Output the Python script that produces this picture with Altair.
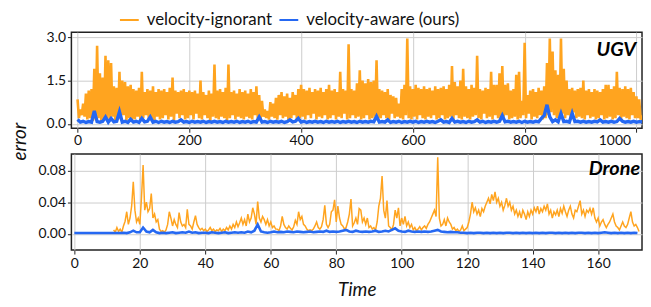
import altair as alt
import numpy as np
import pandas as pd

SERIES = ["velocity-ignorant", "velocity-aware (ours)"]
COLORS = ["#FFA41F", "#2568F2"]

# ---------------- UGV panel ----------------
UGV_IGN_T0, UGV_IGN_STEP = 0.0, 2.5
ugv_ignorant = [
    0.85,0.2, 0.5,0.3, 0.7,0.25, 1.05,0.15, 1.15,0.2, 1.2,0.1, 1.9,0.15, 2.7,0.2, 1.75,0.1, 1.6,0.15,
    2.35,0.2, 2.2,0.15, 2.1,0.25, 1.3,0.1, 1.25,0.2, 1.8,0.15, 1.5,0.3, 1.45,0.1, 1.3,0.2, 1.35,0.15,
    1.2,0.15, 1.15,0.25, 1.25,0.1, 1.8,0.2, 1.1,0.3, 1.2,0.15, 1.15,0.2, 1.3,0.1, 1.1,0.25, 1.2,0.15,
    1.15,0.2, 1.2,0.3, 1.1,0.15, 1.25,0.25, 1.6,0.1, 1.15,0.35, 1.1,0.2, 1.15,0.3, 1.2,0.15, 1.1,0.2,
    1.15,0.3, 1.1,0.15, 1.15,0.35, 1.05,0.2, 1.5,0.15, 1.1,0.3, 1.0,0.2, 1.15,0.1, 1.05,0.25, 2.05,0.2,
    1.15,0.15, 1.2,0.25, 1.1,0.2, 1.25,0.1, 2.05,0.2, 1.1,0.3, 1.15,0.15, 1.05,0.25, 1.2,0.2, 1.1,0.15,
    1.15,0.25, 1.05,0.2, 1.2,0.15, 1.1,0.3, 1.3,0.2, 1.0,0.15, 0.8,0.25, 0.5,0.2, 0.45,0.15, 0.75,0.25,
    0.7,0.2, 0.9,0.15, 1.0,0.3, 1.1,0.2, 0.95,0.25, 1.05,0.1, 0.9,0.2, 1.1,0.3, 1.0,0.15, 1.2,0.2,
    1.35,0.25, 1.2,0.15, 1.15,0.3, 1.25,0.2, 1.1,0.35, 1.2,0.15, 1.15,0.25, 1.25,0.2, 1.1,0.3, 1.2,0.15,
    1.35,0.2, 1.15,0.3, 1.2,0.15, 1.1,0.25, 1.8,0.2, 1.2,0.35, 1.15,0.15, 2.75,0.2, 1.2,0.3, 1.15,0.2,
    1.4,0.25, 1.85,0.15, 1.5,0.2, 1.4,0.3, 1.55,0.15, 1.45,0.2, 1.5,0.25, 2.2,0.15, 1.2,0.2, 1.15,0.3,
    1.1,0.2, 1.2,0.15, 1.0,0.35, 0.95,0.2, 0.9,0.25, 0.7,0.2, 1.2,0.15, 1.35,0.3, 2.95,0.2, 1.3,0.15,
    1.2,0.25, 1.35,0.15, 1.25,0.3, 1.2,0.2, 1.3,0.15, 1.2,0.25, 1.25,0.2, 1.15,0.3, 1.3,0.15, 1.2,0.2,
    1.25,0.3, 1.3,0.15, 1.2,0.2, 1.35,0.25, 2.0,0.15, 1.45,0.3, 1.3,0.2, 1.5,0.15, 1.9,0.25, 1.3,0.2,
    1.2,0.15, 1.35,0.25, 1.25,0.3, 2.35,0.2, 1.2,0.15, 1.15,0.35, 1.25,0.2, 1.2,0.25, 1.8,0.15, 1.35,0.3,
    1.35,0.2, 1.75,0.15, 2.0,0.25, 1.35,0.3, 1.4,0.15, 1.15,0.2, 1.2,0.25, 1.7,0.15, 1.8,0.2, 0.8,0.3,
    2.8,0.2, 1.0,0.35, 1.15,0.15, 1.2,0.25, 1.1,0.2, 1.25,0.3, 1.15,0.15, 1.3,0.2, 2.1,0.3, 2.95,0.4,
    2.5,0.3, 1.85,0.2, 1.7,0.25, 2.95,0.35, 1.9,0.2, 1.5,0.3, 1.2,0.15, 1.25,0.4, 1.15,0.2, 1.2,0.25,
    1.25,0.2, 1.5,0.15, 1.15,0.3, 1.2,0.2, 1.1,0.25, 1.2,0.15, 1.15,0.2, 1.1,0.3, 1.2,0.15, 1.35,0.2,
    1.35,0.25, 1.2,0.15, 1.3,0.2, 1.8,0.3, 1.25,0.15, 1.2,0.25, 1.3,0.2, 1.2,0.15, 1.25,0.3, 1.1,0.2,
    0.95,0.2, 0.85,0.15, 0.3,
]

UGV_AW_T0, UGV_AW_STEP = 0.0, 5.0
ugv_aware = [
    0.15,0.06,0.09,0.05,0.08,0.06,0.45,0.08,0.06,0.09,
    0.24,0.06,0.19,0.07,0.09,0.42,0.06,0.09,0.05,0.16,
    0.06,0.09,0.05,0.19,0.07,0.09,0.24,0.06,0.09,0.05,
    0.09,0.06,0.08,0.05,0.09,0.06,0.08,0.14,0.06,0.08,
    0.05,0.09,0.06,0.08,0.06,0.09,0.05,0.08,0.06,0.09,
    0.06,0.08,0.05,0.09,0.06,0.08,0.06,0.09,0.05,0.08,
    0.06,0.09,0.05,0.08,0.06,0.24,0.06,0.08,0.05,0.09,
    0.06,0.08,0.06,0.09,0.05,0.08,0.14,0.07,0.09,0.19,
    0.06,0.09,0.05,0.08,0.06,0.09,0.06,0.08,0.05,0.09,
    0.06,0.08,0.06,0.09,0.05,0.08,0.06,0.09,0.06,0.08,
    0.05,0.09,0.06,0.08,0.06,0.09,0.07,0.26,0.06,0.08,
    0.06,0.14,0.05,0.08,0.06,0.09,0.05,0.08,0.06,0.09,
    0.06,0.09,0.05,0.08,0.06,0.09,0.06,0.08,0.05,0.09,
    0.14,0.06,0.08,0.05,0.19,0.06,0.09,0.06,0.08,0.05,
    0.09,0.06,0.08,0.14,0.06,0.09,0.05,0.08,0.06,0.09,
    0.06,0.09,0.29,0.07,0.09,0.06,0.08,0.06,0.09,0.05,
    0.09,0.06,0.08,0.06,0.09,0.07,0.19,0.29,0.66,0.24,
    0.08,0.14,0.07,0.36,0.08,0.09,0.06,0.37,0.08,0.09,
    0.06,0.09,0.06,0.08,0.06,0.09,0.07,0.14,0.06,0.08,
    0.06,0.09,0.06,0.08,0.19,0.09,0.06,0.08,0.06,0.09,
    0.06,0.08,0.07,
]

UGV_X_DOMAIN = [-11, 1010]
UGV_X_TICKS = [0, 200, 400, 600, 800, 1000]
UGV_Y_DOMAIN = [-0.15, 3.17]
UGV_Y_TICKS = [0.0, 1.5, 3.0]

# ---------------- Drone panel ----------------
DRONE_IGN_T0, DRONE_IGN_STEP = 12.0, 0.5
drone_ignorant = [
    0.005,0.002,0.008,0.003,0.006,0.002,0.01,0.016,0.028,0.012,0.02,0.035,0.066,0.03,0.015,0.02,0.012,0.045,0.087,0.03,
    0.04,0.028,0.032,0.051,0.02,0.025,0.015,0.018,0.006,0.003,0.004,0.002,0.005,0.012,0.028,0.02,0.01,0.018,0.012,0.008,
    0.027,0.015,0.01,0.012,0.008,0.031,0.012,0.01,0.006,0.015,0.023,0.012,0.008,0.005,0.007,0.004,0.006,0.003,0.005,0.008,
    0.004,0.006,0.003,0.005,0.004,0.007,0.003,0.006,0.004,0.008,0.005,0.01,0.006,0.012,0.008,0.015,0.009,0.014,0.02,0.012,
    0.018,0.01,0.025,0.015,0.02,0.033,0.025,0.012,0.041,0.02,0.015,0.022,0.018,0.012,0.018,0.01,0.015,0.008,0.01,0.006,
    0.006,0.004,0.01,0.022,0.012,0.008,0.006,0.01,0.007,0.005,0.009,0.017,0.012,0.028,0.018,0.022,0.012,0.01,0.006,0.004,
    0.005,0.004,0.006,0.01,0.015,0.008,0.006,0.009,0.018,0.036,0.012,0.008,0.012,0.028,0.03,0.043,0.015,0.035,0.02,0.012,
    0.01,0.006,0.008,0.015,0.025,0.044,0.01,0.014,0.02,0.012,0.032,0.03,0.015,0.02,0.012,0.02,0.008,0.01,0.006,0.008,
    0.005,0.015,0.035,0.045,0.073,0.03,0.02,0.042,0.01,0.008,0.005,0.012,0.03,0.02,0.033,0.01,0.02,0.012,0.022,0.01,
    0.015,0.008,0.012,0.005,0.008,0.004,0.006,0.009,0.005,0.008,0.01,0.007,0.012,0.015,0.02,0.025,0.03,0.022,0.097,0.02,
    0.01,0.012,0.018,0.01,0.02,0.015,0.012,0.006,0.008,0.004,0.006,0.003,0.005,0.01,0.004,0.006,0.008,0.015,0.025,0.04,
    0.028,0.033,0.025,0.03,0.022,0.032,0.028,0.035,0.04,0.045,0.038,0.05,0.042,0.053,0.04,0.045,0.035,0.04,0.03,0.036,
    0.045,0.035,0.04,0.03,0.035,0.025,0.03,0.022,0.028,0.02,0.03,0.025,0.018,0.028,0.022,0.03,0.025,0.033,0.028,0.035,
    0.025,0.032,0.028,0.035,0.03,0.038,0.025,0.03,0.02,0.028,0.024,0.03,0.022,0.032,0.026,0.035,0.028,0.022,0.03,0.035,
    0.025,0.02,0.03,0.028,0.035,0.042,0.025,0.03,0.022,0.03,0.027,0.032,0.025,0.033,0.02,0.015,0.02,0.01,0.015,0.018,
    0.012,0.008,0.012,0.015,0.02,0.025,0.015,0.01,0.008,0.005,0.01,0.015,0.01,0.008,0.012,0.02,0.028,0.015,0.01,0.012,
    0.008,0.003,
]

DRONE_AW_T0, DRONE_AW_STEP = 0.0, 1.0
drone_aware = [
    0.001,0.001,0.001,0.001,0.001,0.001,0.001,0.001,0.001,0.001,0.001,0.001,0.001,0.001,0.001,0.0015,0.001,0.002,0.004,0.002,
    0.002,0.008,0.003,0.002,0.005,0.002,0.001,0.0015,0.001,0.0015,0.002,0.001,0.0015,0.002,0.0015,0.003,0.0015,0.002,0.001,0.0015,
    0.0015,0.001,0.002,0.0015,0.001,0.0015,0.002,0.001,0.0015,0.002,0.0015,0.002,0.0015,0.003,0.002,0.004,0.012,0.003,0.002,0.0015,
    0.002,0.003,0.002,0.0025,0.002,0.003,0.0025,0.002,0.003,0.0025,0.002,0.0025,0.003,0.002,0.0025,0.003,0.0025,0.004,0.0025,0.003,
    0.0025,0.003,0.004,0.005,0.003,0.0025,0.004,0.003,0.0025,0.003,0.0025,0.003,0.004,0.0025,0.003,0.004,0.003,0.005,0.007,0.004,
    0.003,0.0025,0.004,0.003,0.0025,0.003,0.0025,0.003,0.0025,0.003,0.004,0.005,0.003,0.0025,0.002,0.0025,0.002,0.002,0.0015,0.0015,
    0.001,0.0015,0.001,0.0015,0.0015,0.001,0.0015,0.001,0.0015,0.001,0.0015,0.001,0.0015,0.0015,0.001,0.0015,0.001,0.0015,0.001,0.0015,
    0.001,0.0015,0.001,0.0015,0.001,0.0015,0.0015,0.001,0.0015,0.001,0.0015,0.001,0.0015,0.001,0.0015,0.0015,0.001,0.0015,0.001,0.0015,
    0.001,0.0015,0.002,0.0015,0.001,0.0015,0.001,0.0015,0.001,0.0015,0.001,0.0015,0.001,
]

DRONE_X_DOMAIN = [-0.9, 173.4]
DRONE_X_TICKS = [0, 20, 40, 60, 80, 100, 120, 140, 160]
DRONE_Y_DOMAIN = [-0.0205, 0.101]
DRONE_Y_TICKS = [0.0, 0.04, 0.08]

PANEL_LABELS = ["UGV", "Drone"]
FONT = "Lato"


def series_frame(values, t0, step, name):
    return pd.DataFrame({
        "t": t0 + step * np.arange(len(values)),
        "error": values,
        "method": name,
    })


color_enc = alt.Color(
    "method:N",
    scale=alt.Scale(domain=SERIES, range=COLORS),
    legend=alt.Legend(
        title=None, orient="none", direction="horizontal",
        legendX=48, legendY=-23,
        symbolType="stroke", symbolSize=361, symbolStrokeWidth=2,
        labelFontSize=17, labelFont=FONT, labelColor="#111",
        labelOffset=7, columnPadding=3, padding=0,
    ),
)


def panel(ign, aw, xdom, xticks, ydom, yticks, yfmt, label, label_x, label_y,
          xtitle, ytitle, label_pad, ign_w, aw_w, flush):
    xaxis = dict(values=xticks, format="d", title=xtitle,
                 labelPadding=label_pad, titlePadding=10)
    if flush:
        xaxis.update(labelFlush=5.9, labelFlushOffset=-6)
    x = alt.X("t:Q", scale=alt.Scale(domain=xdom, nice=False, zero=False),
              axis=alt.Axis(**xaxis))
    yaxis = dict(values=yticks, format=yfmt, title=ytitle)
    if ytitle:
        yaxis.update(titleX=-52, titleY=110, titleAngle=-90,
                     titleAlign="center", titleBaseline="middle")
    y = alt.Y("error:Q", scale=alt.Scale(domain=ydom, nice=False, zero=False),
              axis=alt.Axis(**yaxis))
    l1 = alt.Chart(ign).mark_line(strokeWidth=ign_w, clip=True).encode(
        x=x, y=y, color=color_enc)
    l2 = alt.Chart(aw).mark_line(strokeWidth=aw_w, clip=True).encode(
        x=x, y=y, color=color_enc)
    txt = alt.Chart(pd.DataFrame({"label": [label]})).mark_text(
        font=FONT, fontSize=20, fontWeight="bold", fontStyle="italic",
        align="right", baseline="alphabetic", color="#000",
    ).encode(text="label:N", x=alt.value(label_x), y=alt.value(label_y))
    return alt.layer(l1, l2, txt).properties(width=576, height=97)


top = panel(
    series_frame(ugv_ignorant, UGV_IGN_T0, UGV_IGN_STEP, SERIES[0]),
    series_frame(ugv_aware, UGV_AW_T0, UGV_AW_STEP, SERIES[1]),
    UGV_X_DOMAIN, UGV_X_TICKS, UGV_Y_DOMAIN, UGV_Y_TICKS, ".1f",
    PANEL_LABELS[0], 570, 24, None, "error", 1, 2.6, 3.4, True,
)
bottom = panel(
    series_frame(drone_ignorant, DRONE_IGN_T0, DRONE_IGN_STEP, SERIES[0]),
    series_frame(drone_aware, DRONE_AW_T0, DRONE_AW_STEP, SERIES[1]),
    DRONE_X_DOMAIN, DRONE_X_TICKS, DRONE_Y_DOMAIN, DRONE_Y_TICKS, ".2f",
    PANEL_LABELS[1], 574, 21, "Time", None, 3, 1.5, 2.6, False,
)

chart = alt.vconcat(top, bottom, spacing=26, bounds="flush").properties(
    padding={"left": 2, "top": 0, "right": 0, "bottom": -3}
).configure_view(
    stroke="#222", strokeWidth=1.5
).configure_axis(
    domain=False, grid=True, gridColor="#cccccc", gridWidth=1,
    ticks=True, tickColor="#222", tickSize=4,
    labelFont=FONT, labelFontSize=14, labelColor="#111",
    titleFont=FONT, titleFontSize=19, titleFontStyle="italic",
    titleFontWeight="normal", titleColor="#111",
)

chart.save("out.html", embed_options={"renderer": "svg", "actions": False})
